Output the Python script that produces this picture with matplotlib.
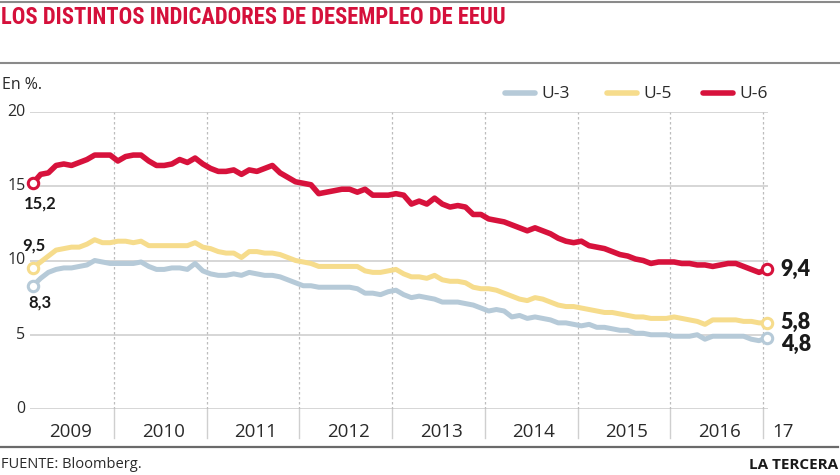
import matplotlib
matplotlib.use("Agg")
import matplotlib.pyplot as plt
from matplotlib import font_manager
import matplotlib.transforms as mtransforms
import numpy as np

# ---------------- data (monthly, Feb 2009 - Jan 2017) ----------------
u6 = [15.2, 15.8, 15.9, 16.4, 16.5, 16.4, 16.6, 16.8, 17.1, 17.1, 17.1, 16.7,
      17.0, 17.1, 17.1, 16.7, 16.4, 16.4, 16.5, 16.8, 16.6, 16.9, 16.5, 16.2,
      16.0, 16.0, 16.1, 15.8, 16.1, 16.0, 16.2, 16.4, 15.9, 15.6, 15.3, 15.2,
      15.1, 14.5, 14.6, 14.7, 14.8, 14.8, 14.6, 14.8, 14.4, 14.4, 14.4, 14.5,
      14.4, 13.8, 14.0, 13.8, 14.2, 13.8, 13.6, 13.7, 13.6, 13.1, 13.1, 12.8,
      12.7, 12.6, 12.4, 12.2, 12.0, 12.2, 12.0, 11.8, 11.5, 11.3, 11.2, 11.3,
      11.0, 10.9, 10.8, 10.6, 10.4, 10.3, 10.1, 10.0, 9.8, 9.9, 9.9, 9.9,
      9.8, 9.8, 9.7, 9.7, 9.6, 9.7, 9.8, 9.8, 9.6, 9.4, 9.2, 9.4]
u5 = [9.5, 9.9, 10.3, 10.7, 10.8, 10.9, 10.9, 11.1, 11.4, 11.2, 11.2, 11.3,
      11.3, 11.2, 11.3, 11.0, 11.0, 11.0, 11.0, 11.0, 11.0, 11.2, 10.9, 10.8,
      10.6, 10.5, 10.5, 10.2, 10.6, 10.6, 10.5, 10.5, 10.4, 10.2, 10.0, 9.9,
      9.8, 9.6, 9.6, 9.6, 9.6, 9.6, 9.6, 9.3, 9.2, 9.2, 9.3, 9.4,
      9.1, 8.9, 8.9, 8.8, 9.0, 8.7, 8.6, 8.6, 8.5, 8.2, 8.1, 8.1,
      8.0, 7.8, 7.6, 7.4, 7.3, 7.5, 7.4, 7.2, 7.0, 6.9, 6.9, 6.8,
      6.7, 6.6, 6.5, 6.5, 6.4, 6.3, 6.2, 6.2, 6.1, 6.1, 6.1, 6.2,
      6.1, 6.0, 5.9, 5.7, 6.0, 6.0, 6.0, 6.0, 5.9, 5.9, 5.8, 5.8]
u3 = [8.3, 8.8, 9.2, 9.4, 9.5, 9.5, 9.6, 9.7, 10.0, 9.9, 9.8, 9.8,
      9.8, 9.8, 9.9, 9.6, 9.4, 9.4, 9.5, 9.5, 9.4, 9.8, 9.3, 9.1,
      9.0, 9.0, 9.1, 9.0, 9.2, 9.1, 9.0, 9.0, 8.9, 8.7, 8.5, 8.3,
      8.3, 8.2, 8.2, 8.2, 8.2, 8.2, 8.1, 7.8, 7.8, 7.7, 7.9, 8.0,
      7.7, 7.5, 7.6, 7.5, 7.4, 7.2, 7.2, 7.2, 7.1, 7.0, 6.8, 6.6,
      6.7, 6.6, 6.2, 6.3, 6.1, 6.2, 6.1, 6.0, 5.8, 5.8, 5.7, 5.6,
      5.7, 5.5, 5.5, 5.4, 5.3, 5.3, 5.1, 5.1, 5.0, 5.0, 5.0, 4.9,
      4.9, 4.9, 5.0, 4.7, 4.9, 4.9, 4.9, 4.9, 4.9, 4.7, 4.6, 4.8]
series_names = ["U-3", "U-5", "U-6"]
start_labels = ["8,3", "9,5", "15,2"]
end_labels = ["4,8", "5,8", "9,4"]
year_labels = ["2009", "2010", "2011", "2012", "2013", "2014", "2015", "2016"]
yticks = [0, 5, 10, 15, 20]

# time axis: mid-month positions starting Feb 2009
t = 2009 + (np.arange(len(u6)) + 1.5) / 12.0

W, H = 840, 475
fig = plt.figure(figsize=(W / 100, H / 100), dpi=100)
fig.patch.set_facecolor("white")

def fx(px):
    return px / W

def fy(py):
    return 1 - py / H

avail = {f.name for f in font_manager.fontManager.ttflist}
base = "Open Sans" if "Open Sans" in avail else "DejaVu Sans"
heavy = "Lato" if "Lato" in avail else base
title_font = "DejaVu Sans"
for cand in ["Roboto Condensed", "Liberation Sans Narrow", "DejaVu Sans Condensed", "Roboto"]:
    if cand in avail:
        title_font = cand
        break

RED = "#d5103b"
C3 = "#b6cad8"
C5 = "#f6dc8c"
C6 = "#d7123c"
TXT = "#2a2a2a"

# axes: x from 30px to 768px, y 0 at 409px, 20 at 112px
x0px, x1px = 30, 768
y0px, y1px = 409, 112
ax = fig.add_axes([fx(x0px), fy(y0px), fx(x1px - x0px), (y0px - y1px) / H])
px_per_year = 92.7
xmin = 2010 + (x0px - 114) / px_per_year
xmax = 2010 + (x1px - 114) / px_per_year
ax.set_xlim(xmin, xmax)
ax.set_ylim(0, 20)
ax.axis("off")

for v in yticks:
    ax.axhline(v, color="#cfcfcf", lw=1.2, zorder=1)
    ax.text(-0.006, v, str(v), transform=mtransforms.blended_transform_factory(ax.transAxes, ax.transData),
            ha="right", va="center", fontsize=11.5, color=TXT, family=base)

years_b = list(range(2010, 2018))
for yb in years_b:
    ax.plot([yb, yb], [0, 20], color="#bdbdbd", lw=0.9, ls=(0, (2, 2)), zorder=1)
    ax.plot([yb, yb], [0, -(438 - 409) / 297 * 20], color="#cfcfcf", lw=1.0, clip_on=False, zorder=1)

for i, lab in enumerate(year_labels):
    ax.text(2009.53 + i, -(432 - 409) / 297 * 20, lab, ha="center", va="center",
            fontsize=13.5, color=TXT, family=base, clip_on=False)
ax.text(2017.1, -(432 - 409) / 297 * 20, "17", ha="left", va="center",
        fontsize=13.5, color=TXT, family=base, clip_on=False)

data = [u3, u5, u6]
colors = [C3, C5, C6]
widths = [3.6, 3.6, 4.0]
for vals, c, lw in zip(data, colors, widths):
    ax.plot(t, vals, color=c, lw=lw, solid_joinstyle="round", solid_capstyle="round", zorder=3)
    ax.plot([t[0], t[-1]], [vals[0], vals[-1]], ls="none", marker="o", ms=7.5,
            mfc="white", mec=c, mew=2.2, zorder=4, clip_on=False)

# start labels
start_offsets = [(5, -12), (1, 16), (5, -14.4)]
for vals, lab, off in zip(data, start_labels, start_offsets):
    ax.annotate(lab, (t[0], vals[0]), xytext=off, textcoords="offset points",
                ha="center", va="center", fontsize=12, fontweight="bold",
                color="#1a1a1a", family=heavy, annotation_clip=False)
# end labels
end_offsets = [(10, -5), (10, 0), (10, 0)]
for vals, lab, off in zip(data, end_labels, end_offsets):
    ax.annotate(lab, (t[-1], vals[-1]), xytext=off, textcoords="offset points",
                ha="left", va="center", fontsize=15.5, fontweight="heavy",
                color="#1a1a1a", family=heavy, annotation_clip=False)

# legend (manual)
leg_x = [505, 607, 703]
for lx, c, name in zip(leg_x, colors, series_names):
    fig.add_artist(plt.Line2D([fx(lx), fx(lx + 30)], [fy(93), fy(93)], color=c, lw=4,
                              solid_capstyle="round"))
    fig.text(fx(lx + 36), fy(94), name, ha="left", va="center", fontsize=12.5,
             color=TXT, family=base)

# rules
for py, c, lw in [(1.5, "#8a8a8a", 1.5), (63, "#8a8a8a", 1.5), (446.5, "#6a6a6a", 1.6)]:
    fig.add_artist(plt.Line2D([0, fx(838 if py > 400 else 840)], [fy(py), fy(py)], color=c, lw=lw))

title = fig.text(fx(1), fy(18), "LOS DISTINTOS INDICADORES DE DESEMPLEO DE EEUU",
                 ha="left", va="center", fontsize=15, fontweight="black", color=RED,
                 family=title_font)
# fit title to ~508px width
fig.canvas.draw()
bb = title.get_window_extent()
title.set_fontsize(15 * 508 / bb.width)

fig.text(fx(2), fy(85), "En %.", ha="left", va="center", fontsize=11.5, color=TXT, family=base)
fig.text(fx(1), fy(465), "FUENTE: Bloomberg.", ha="left", va="center", fontsize=10.5,
         color=TXT, family=base)
fig.text(fx(838), fy(465), "LA TERCERA", ha="right", va="center", fontsize=11,
         fontweight="bold", color="#1a1a1a", family=base)

fig.savefig("out.png", dpi=100, facecolor="white")
